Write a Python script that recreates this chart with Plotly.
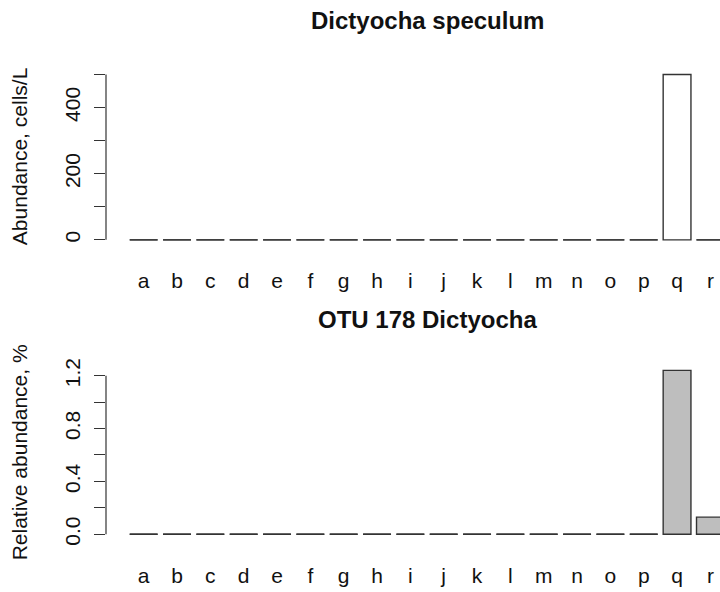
import plotly.graph_objects as go

# Sampling stations
stations = list("abcdefghijklmnopqr")

# Microscopy counts of Dictyocha speculum (cells per litre)
speculum_cells = [0, 0, 0, 0, 0, 0, 0, 0, 0, 0, 0, 0, 0, 0, 0, 0, 500, 0]
# Relative read abundance of OTU 178 (Dictyocha), percent
otu178_pct = [0, 0, 0, 0, 0, 0, 0, 0, 0, 0, 0, 0, 0, 0, 0, 0, 1.24, 0.13]

top_ticks = [0, 100, 200, 300, 400, 500]
top_tick_labels = ["0", "", "200", "", "400", ""]
bottom_ticks = [0, 0.2, 0.4, 0.6, 0.8, 1.0, 1.2]
bottom_tick_labels = ["0.0", "", "0.4", "", "0.8", "", "1.2"]

FONT = "Liberation Sans, Arial, sans-serif"
INK = "#333333"
W, H = 720, 592
LEFT = 106

fig = go.Figure()


def add_panel(values, fill, row):
    xa = "x" if row == 1 else "x2"
    ya = "y" if row == 1 else "y2"
    fig.add_trace(go.Bar(
        x=stations, y=values, xaxis=xa, yaxis=ya,
        marker=dict(color=fill, line=dict(color=INK, width=1.4)),
        showlegend=False, hoverinfo="x+y",
    ))
    # empty bars are drawn as a flat outline on the baseline
    zx = [s for s, v in zip(stations, values) if v == 0]
    zy = [v for v in values if v == 0]
    fig.add_trace(go.Scatter(
        x=zx, y=zy, xaxis=xa, yaxis=ya, mode="markers",
        marker=dict(symbol="line-ew", size=20,
                    line=dict(color=INK, width=1.4)),
        showlegend=False, hoverinfo="skip",
    ))


add_panel(speculum_cells, "white", 1)
add_panel(otu178_pct, "#BEBEBE", 2)


def yrange(values):
    hi = max(values)
    return [-0.04 * hi, 1.04 * hi]


# category range: 4% padding on the left, right side runs off the page edge
xr = [-1.13, 17.288]
xcommon = dict(type="category", categoryorder="array", categoryarray=stations,
               range=xr, showline=False, showgrid=False, zeroline=False,
               ticks="", tickfont=dict(family=FONT, size=21, color="#111"),
               ticklabelstandoff=20, fixedrange=True)
ycommon = dict(showline=False, showgrid=False, zeroline=False,
               ticks="outside", ticklen=11, tickwidth=1.2, tickcolor=INK,
               tickangle=-90, tickfont=dict(family=FONT, size=21, color="#111"),
               ticklabelstandoff=6, fixedrange=True)

fig.update_layout(
    width=W, height=H,
    margin=dict(l=LEFT, r=0, t=0, b=0),
    paper_bgcolor="white", plot_bgcolor="white",
    bargap=1 - 1 / 1.2,
    xaxis=dict(domain=[0, 1], anchor="y", **xcommon),
    yaxis=dict(domain=[1 - 245 / H, 1 - 63 / H], anchor="x",
               range=yrange(speculum_cells), tickvals=top_ticks,
               ticktext=top_tick_labels, **ycommon),
    xaxis2=dict(domain=[0, 1], anchor="y2", **xcommon),
    yaxis2=dict(domain=[1 - 545 / H, 1 - 364.6 / H], anchor="x2",
                range=yrange(otu178_pct), tickvals=bottom_ticks,
                ticktext=bottom_tick_labels, **ycommon),
)

# y axis lines span only the tick range
for ya, ticks in (("y", top_ticks), ("y2", bottom_ticks)):
    fig.add_shape(type="line", xref=("x" if ya == "y" else "x2") + " domain",
                  yref=ya, x0=0, x1=0, y0=min(ticks), y1=max(ticks),
                  line=dict(color=INK, width=1.2))

mid = (len(stations) - 1) / 2
fig.add_annotation(text="<b>Dictyocha speculum</b>", xref="x", yref="paper",
                   x=mid, y=1 - 15 / H, xanchor="center", yanchor="middle",
                   showarrow=False, font=dict(family=FONT, size=24, color="#111"))
fig.add_annotation(text="<b>OTU 178 Dictyocha</b>", xref="x2", yref="paper",
                   x=mid, y=1 - 319.5 / H, xanchor="center", yanchor="middle",
                   showarrow=False, font=dict(family=FONT, size=24, color="#111"))

fig.add_annotation(text="Abundance, cells/L", xref="paper", yref="y domain",
                   x=(19 - LEFT) / (W - LEFT), y=0.5, xanchor="center",
                   yanchor="middle", textangle=-90, showarrow=False,
                   font=dict(family=FONT, size=21, color="#111"))
fig.add_annotation(text="Relative abundance, %", xref="paper", yref="y2 domain",
                   x=(19 - LEFT) / (W - LEFT), y=0.5, xanchor="center",
                   yanchor="middle", textangle=-90, showarrow=False,
                   font=dict(family=FONT, size=21, color="#111"))

fig.write_html("out.html")
